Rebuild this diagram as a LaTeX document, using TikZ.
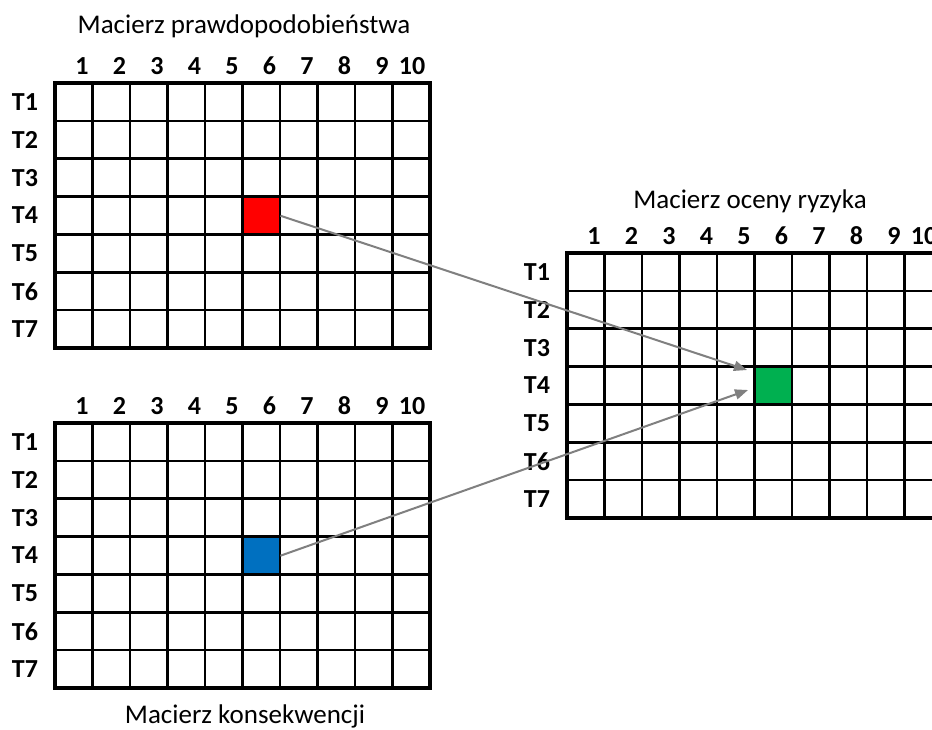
\documentclass[tikz,border=0pt]{standalone}
\usepackage{fontspec}
\setmainfont{Carlito}
\usetikzlibrary{arrows.meta}
\definecolor{cellred}{RGB}{255,0,0}
\definecolor{cellblue}{RGB}{0,112,192}
\definecolor{cellgreen}{RGB}{0,176,80}
\definecolor{linkgray}{RGB}{128,128,128}
\tikzset{
 cell/.style={minimum width=37.5pt,minimum height=37.86pt,inner sep=0pt,anchor=north west,draw=none},
 gridinner/.style={line width=2.6pt},
 gridouter/.style={line width=4pt},
 collab/.style={font=\fontsize{26}{30}\selectfont\bfseries, anchor=base, inner sep=0pt},
 rowlab/.style={font=\fontsize{26}{30}\selectfont\bfseries, inner sep=0pt},
 titlelab/.style={font=\fontsize{27}{31}\selectfont, anchor=base, inner sep=0pt},
 link/.style={draw=linkgray, line width=2pt, -{Triangle[length=13pt,width=10pt]}},
}
\newcommand\mxgrid[3]{%
 \begin{scope}[shift={(#1,#2)}]
 \foreach \i in {1,...,9} \draw[gridinner] (\i*37.5,0) -- (\i*37.5,265);
 \foreach \j in {1,...,6} \draw[gridinner] (0,\j*265/7) -- (375,\j*265/7);
 \draw[gridouter] (0,0) rectangle (375,265);
 \foreach \i in {1,...,9} \node[collab] (#3c\i) at (27+\i*37.5-37.5,-9) {\i};
 \node[collab] (#3c10) at (357,-9) {10};
 \foreach \j in {1,...,7} \node[rowlab] (#3r\j) at (-30,\j*37.86-18.93) {T\j};
 \end{scope}}
\begin{document}
\begin{tikzpicture}[x=1pt,y=-1pt]
\clip (0,0) rectangle (932,729);
\fill[white] (0,0) rectangle (932,729);
% coloured cells
\node[cell,fill=cellred] (red) at (242.5,196.6) {};
\node[cell,fill=cellblue] (blue) at (242.5,536.6) {};
\node[cell,fill=cellgreen] (green) at (754.5,366.6) {};
% grids
\mxgrid{55}{83}{pa}
\mxgrid{55}{423}{ka}
\mxgrid{567}{253}{ra}
% titles
\node[titlelab] (t1) at (244,33) {Macierz prawdopodobieństwa};
\node[titlelab] (t2) at (750,208) {Macierz oceny ryzyka};
\node[titlelab] (t3) at (245,723) {Macierz konsekwencji};
% arrows
\coordinate (e1) at (747,370);
\coordinate (e2) at (748,390);
\draw[link] (red.east) -- (e1);
\draw[link] (blue.east) -- (e2);
\end{tikzpicture}
\end{document}
